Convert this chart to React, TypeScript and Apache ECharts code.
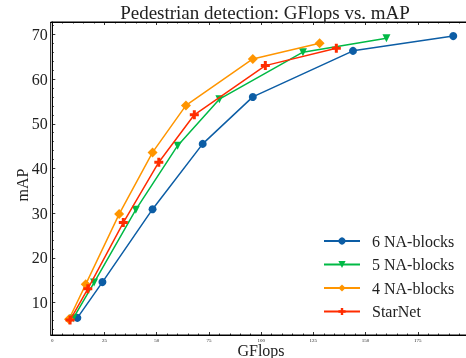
import React, { useEffect, useRef } from "react";
import * as echarts from "echarts";

const seriesNames = ["6 NA-blocks", "5 NA-blocks", "4 NA-blocks", "StarNet"];
const gflops6 = [12, 24, 48, 72, 96, 144, 192];
const map6 = [6.6, 14.6, 30.9, 45.5, 56.0, 66.3, 69.6];
const gflops5 = [10, 20, 40, 60, 80, 120, 160];
const map5 = [6.5, 14.5, 30.8, 45.1, 55.5, 66.0, 69.1];
const gflops4 = [8, 16, 32, 48, 64, 96, 128];
const map4 = [6.3, 14.1, 29.8, 43.6, 54.1, 64.5, 68.0];
const gflopsStar = [8.5, 17, 34, 51, 68, 102, 136];
const mapStar = [6.1, 13.1, 27.9, 41.4, 52.0, 63.0, 66.9];

const xMajor = [0, 25, 50, 75, 100, 125, 150, 175, 200];
const yMajor = [10, 20, 30, 40, 50, 60, 70];

const colors = ["#0C5DA5", "#00B945", "#FF9500", "#FF2C00"];
const FONT = "'Liberation Serif', 'DejaVu Serif', serif";
const plusPath = "path://M1,0H2V1H3V2H2V3H1V2H0V1H1Z";

export default function App() {
  const ref = useRef<HTMLDivElement>(null);
  useEffect(() => {
    document.body.style.overflow = "hidden";
    const chart = echarts.init(ref.current!, null, { renderer: "svg" });
    const xMinor: number[] = [];
    for (let v = 0; v <= 205; v += 5) if (v % 25 !== 0) xMinor.push(v);
    const yMinor: number[] = [];
    for (let v = 4; v <= 72; v += 2) if (v % 10 !== 0) yMinor.push(v);

    const xmin = -0.77, xmax = 204.8, ymin = 2.77, ymax = 72.75;
    const lineStyle = { color: "#000", width: 1 };
    const mkX = (pos: string, ticks: number[], len: number, showLine: boolean, showLabel: boolean) => ({
      type: "value",
      position: pos,
      min: xmin,
      max: xmax,
      splitLine: { show: false },
      axisLine: { show: showLine, lineStyle },
      axisTick: { show: true, inside: true, length: len, customValues: ticks, lineStyle: { color: "#000", width: 0.8 } },
      axisLabel: showLabel
        ? { show: true, customValues: xMajor, fontSize: 5, fontFamily: FONT, color: "#222", margin: 3, hideOverlap: false }
        : { show: false },
    });
    const mkY = (ticks: number[], len: number, showLine: boolean, showLabel: boolean) => ({
      type: "value",
      position: "left",
      min: ymin,
      max: ymax,
      splitLine: { show: false },
      axisLine: { show: showLine, lineStyle },
      axisTick: { show: true, inside: true, length: len, customValues: ticks, lineStyle: { color: "#000", width: 0.8 } },
      axisLabel: showLabel
        ? { show: true, customValues: yMajor, fontSize: 16, fontFamily: FONT, color: "#222", margin: 3 }
        : { show: false },
    });

    const xs = [gflops6, gflops5, gflops4, gflopsStar];
    const ys = [map6, map5, map4, mapStar];
    const symbols = ["circle", "triangle", "diamond", plusPath];
    const sizes = [8, 8, 10, 9];
    const rot = [0, 180, 0, 0];

    chart.setOption({
      animation: false,
      title: {
        text: "Pedestrian detection: GFlops vs. mAP",
        left: 260,
        top: -2,
        textAlign: "center",
        textStyle: { fontFamily: FONT, fontSize: 19, fontWeight: "normal", color: "#222" },
      },
      grid: { left: 50.7, right: 0, top: 22, bottom: 23, show: true, borderColor: "#000", borderWidth: 1 },
      xAxis: [
        mkX("bottom", xMajor, 3, true, true),
        mkX("bottom", xMinor, 1.5, false, false),
        mkX("top", xMajor, 3, true, false),
        mkX("top", xMinor, 1.5, false, false),
      ],
      yAxis: [
        mkY(yMajor, 3, true, true),
        mkY(yMinor, 1.5, false, false),
      ],
      legend: {
        orient: "vertical",
        left: 318,
        top: 228,
        itemWidth: 36,
        itemHeight: 9,
        itemGap: 7.5,
        textStyle: { fontFamily: FONT, fontSize: 16, color: "#222", padding: [0, 0, 0, 7] },
        data: seriesNames,
      },
      series: seriesNames.map((name, i) => ({
        name,
        type: "line",
        xAxisIndex: 0,
        yAxisIndex: 0,
        data: xs[i].map((x, j) => [x, ys[i][j]]),
        symbol: symbols[i],
        symbolSize: sizes[i],
        symbolRotate: rot[i],
        showAllSymbol: true,
        lineStyle: { color: colors[i], width: 1.5 },
        itemStyle: { color: colors[i] },
        z: 2 + i,
      })),
      graphic: [
        {
          type: "text",
          x: 261,
          y: 350,
          style: { text: "GFlops", font: `16px ${FONT}`, fill: "#222", textAlign: "center", textVerticalAlign: "middle" },
        },
        {
          type: "text",
          x: 22,
          y: 185,
          rotation: Math.PI / 2,
          style: { text: "mAP", font: `16px ${FONT}`, fill: "#222", textAlign: "center", textVerticalAlign: "middle" },
        },
      ],
    });
    return () => chart.dispose();
  }, []);
  return <div ref={ref} style={{ position: "fixed", left: 0, top: 0, width: 480, height: 358 }} />;
}
